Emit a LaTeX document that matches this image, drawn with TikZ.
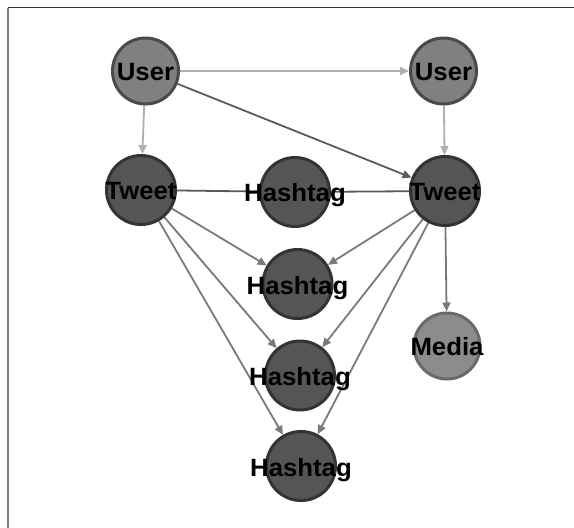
\documentclass[tikz,border=0pt]{standalone}
\usepackage{fontspec}
\setmainfont{Liberation Sans}
\usetikzlibrary{arrows.meta,backgrounds}
\definecolor{userfill}{HTML}{808080}
\definecolor{userdraw}{HTML}{4A4A4A}
\definecolor{darkfill}{HTML}{555555}
\definecolor{darkdraw}{HTML}{333333}
\definecolor{mediafill}{HTML}{8C8C8C}
\definecolor{mediadraw}{HTML}{6A6A6A}
\definecolor{lightedge}{HTML}{B0B0B0}
\definecolor{midedge}{HTML}{7A7A7A}
\definecolor{darkedge}{HTML}{5A5A5A}
\begin{document}
\begin{tikzpicture}[x=1pt,y=-1pt,
  vtx/.style={circle,line width=3pt,inner sep=0pt,minimum size=66pt},
  uservtx/.style={vtx,fill=userfill,draw=userdraw},
  darkvtx/.style={vtx,fill=darkfill,draw=darkdraw,minimum size=69pt},
  mediavtx/.style={vtx,fill=mediafill,draw=mediadraw},
  lbl/.style={font=\fontsize{25}{25}\selectfont\bfseries,text=black,inner sep=0pt,xscale=1.03},
  edge/.style={line width=1.8pt,-{Triangle[length=9pt,width=8pt]}},
  lightE/.style={edge,draw=lightedge,fill=lightedge},
  midE/.style={edge,draw=midedge,fill=midedge},
  darkE/.style={edge,draw=darkedge,fill=darkedge},
  plainE/.style={line width=1.8pt,draw=darkedge}]
\useasboundingbox (0,0) rectangle (574,528);
\coordinate (frametl) at (7.5,7.5);
\coordinate (frametr) at (574,7.5);
\coordinate (framebl) at (7.5,528);
\draw[line width=1.5pt,draw=darkdraw] (frametr) -- (frametl);
\draw[line width=2pt,draw=gray] (frametl) -- (framebl);

\node[uservtx] (u1) at (145.5,71) {};
\node[uservtx] (u2) at (443.5,71) {};
\node[darkvtx] (t1) at (141,190) {};
\node[darkvtx] (h1) at (295,192) {};
\node[darkvtx] (t2) at (445,191) {};
\node[darkvtx] (h2) at (297.5,284) {};
\node[mediavtx] (m) at (447,346) {};
\node[darkvtx] (h3) at (300,375.5) {};
\node[darkvtx] (h4) at (301,466) {};

\node[lbl] (u1l) at ([yshift=-1pt]u1) {User};
\node[lbl] (u2l) at ([yshift=-1pt]u2) {User};
\node[lbl] (t1l) at ([yshift=-1pt]t1) {Tweet};
\node[lbl] (h1l) at ([yshift=-3pt]h1) {Hashtag};
\node[lbl] (t2l) at ([yshift=-1pt]t2) {Tweet};
\node[lbl] (h2l) at ([yshift=-4pt]h2) {Hashtag};
\node[lbl] (ml) at ([yshift=-1pt]m) {Media};
\node[lbl] (h3l) at ([yshift=-4pt]h3) {Hashtag};
\node[lbl] (h4l) at ([yshift=-4pt]h4) {Hashtag};

\begin{scope}[on background layer]
\draw[lightE] (u1) -- (u2);
\draw[lightE] (u1) -- (t1);
\draw[lightE] (u2) -- (t2);
\draw[darkE] (u1) -- (t2);
\draw[plainE] (t1) -- (h1);
\draw[plainE] (t2) -- (h1);
\draw[midE] (t1) -- (h2);
\draw[midE] (t1) -- (h3);
\draw[midE] (t1) -- (h4);
\draw[midE] (t2) -- (h2);
\draw[midE] (t2) -- (h3);
\draw[midE] (t2) -- (h4);
\draw[midE] (t2) -- (m);
\end{scope}
\end{tikzpicture}
\end{document}
